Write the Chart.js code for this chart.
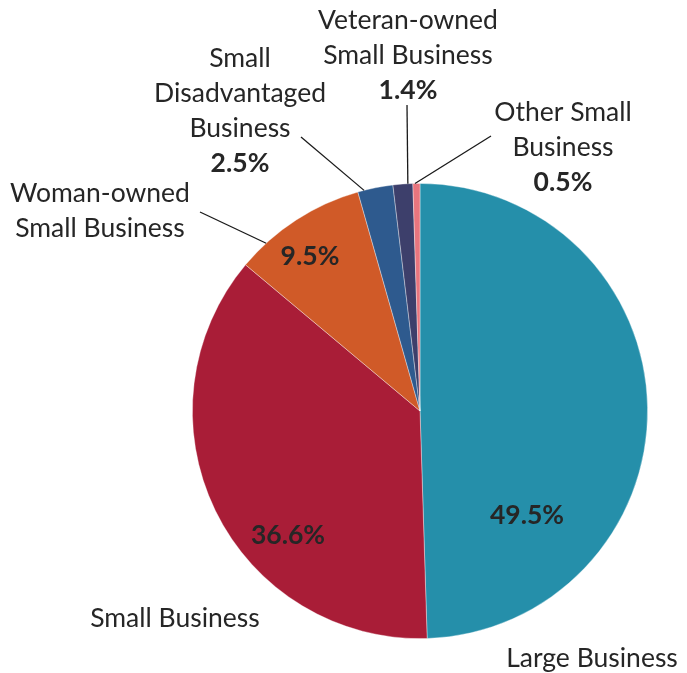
<!DOCTYPE html>
<html>
<head>
<meta charset="utf-8">
<script src="https://cdn.jsdelivr.net/npm/chart.js@4"></script>
<style>
  html, body { margin: 0; padding: 0; background: #fff; }
  #wrap { width: 687px; height: 673px; position: relative; }
</style>
</head>
<body>
<div id="wrap"><canvas id="pieChart"></canvas></div>
<script>
const categories = ['Large Business', 'Small Business', 'Woman-owned Small Business',
  'Small Disadvantaged Business', 'Veteran-owned Small Business', 'Other Small Business'];
const shares = [49.5, 36.6, 9.5, 2.5, 1.4, 0.5];
const colors = ['#258FAA', '#A91D37', '#D05A28', '#2E5A8E', '#3D3F6B', '#E8757E'];

// where each label sits; inside labels only show the percent
const labelLayout = [
  { lines: [], pctAt: [527, 515] },
  { lines: [], pctAt: [288, 535] },
  { lines: ['Woman-owned', 'Small Business'], at: [100, 193], pctAt: [310, 256], lineFrom: [200, 212], arcFrac: 0.22 },
  { lines: ['Small', 'Disadvantaged', 'Business'], at: [240, 58], pct: true, lineFrom: [301, 137], arcFrac: 0.18 },
  { lines: ['Veteran-owned', 'Small Business'], at: [408, 20], pct: true, lineFrom: [407, 105], arcFrac: 0.75 },
  { lines: ['Other Small', 'Business'], at: [563, 112], pct: true, lineFrom: [491, 136], arcFrac: 0.3 }
];
const bottomLabels = [
  { text: 'Large Business', at: [592, 658] },
  { text: 'Small Business', at: [175, 618] }
];

const FONT = 'Lato, "Open Sans", sans-serif';
const TEXT = '#262626';
const LINE_H = 35;

const labelPlugin = {
  id: 'pieLabels',
  afterDraw(chart) {
    const c = chart.ctx;
    const arcs = chart.getDatasetMeta(0).data;
    c.save();
    c.textAlign = 'center';
    c.textBaseline = 'middle';
    c.fillStyle = TEXT;
    c.strokeStyle = '#1a1a1a';
    c.lineWidth = 1.3;
    labelLayout.forEach((lab, i) => {
      const pct = shares[i].toFixed(1) + '%';
      c.font = '26.5px ' + FONT;
      lab.lines.forEach((t, k) => c.fillText(t, lab.at[0], lab.at[1] + k * LINE_H));
      c.font = 'bold 26.5px ' + FONT;
      if (lab.pct) {
        c.fillText(pct, lab.at[0], lab.at[1] + lab.lines.length * LINE_H);
      } else {
        c.fillText(pct, lab.pctAt[0], lab.pctAt[1]);
      }
      if (lab.lineFrom) {
        const a = arcs[i];
        const ang = a.startAngle + (a.endAngle - a.startAngle) * lab.arcFrac;
        const ex = a.x + Math.cos(ang) * a.outerRadius;
        const ey = a.y + Math.sin(ang) * a.outerRadius;
        c.beginPath();
        c.moveTo(lab.lineFrom[0], lab.lineFrom[1]);
        c.lineTo(ex, ey);
        c.stroke();
      }
    });
    c.font = '26.5px ' + FONT;
    bottomLabels.forEach(b => c.fillText(b.text, b.at[0], b.at[1]));
    c.restore();
  }
};

new Chart(document.getElementById('pieChart'), {
  type: 'pie',
  data: {
    labels: categories,
    datasets: [{
      data: shares,
      backgroundColor: colors,
      borderColor: 'rgba(255,255,255,0.45)',
      borderWidth: 0.8
    }]
  },
  options: {
    responsive: true,
    maintainAspectRatio: false,
    animation: false,
    layout: { padding: { left: 192, right: 39, top: 183, bottom: 34 } },
    plugins: {
      legend: { display: false },
      tooltip: { enabled: false }
    }
  },
  plugins: [labelPlugin]
});
</script>
</body>
</html>
